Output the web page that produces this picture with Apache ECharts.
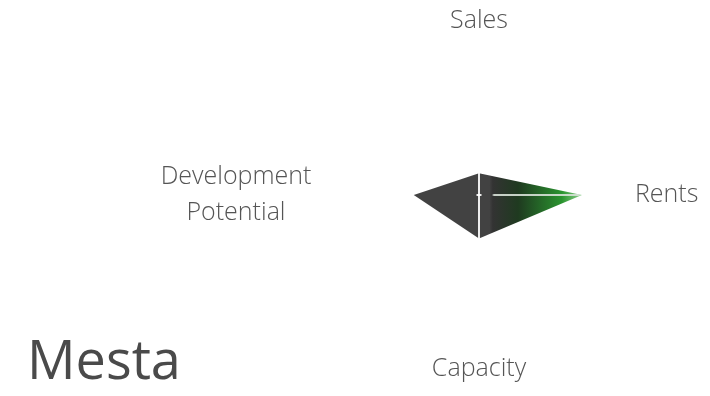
<!DOCTYPE html>
<html>
<head>
<meta charset="utf-8">
<script src="https://cdn.jsdelivr.net/npm/echarts@6/dist/echarts.min.js"></script>
<style>
  html, body { margin: 0; padding: 0; background: #fff; }
  #radar { width: 710px; height: 396px; }
</style>
</head>
<body>
<div id="radar"></div>
<script>
  // indicators in ECharts order (counter-clockwise from top)
  const indicators = ['Sales', 'Development\nPotential', 'Capacity', 'Rents']
  const maxValues = [1, 1, 1, 1]
  const values = [0.15, 0.45, 0.3, 0.71]

  const chart = echarts.init(document.getElementById('radar'))

  const clear = 'rgba(255,255,255,0)'
  let option = {
    backgroundColor: '#fff',
    animation: false,
    title: {
      text: 'Mesta',
      left: 22,
      bottom: 0,
      textStyle: {
        fontFamily: 'Open Sans',
        fontSize: 54,
        fontWeight: 'normal',
        color: '#4a4a4a'
      }
    },
    radar: {
      center: [479, 195],
      radius: 145,
      startAngle: 90,
      shape: 'polygon',
      nameGap: 11,
      z: 3,
      indicator: indicators.map((n, i) => ({ name: n, max: maxValues[i] })),
      axisName: {
        color: '#555',
        fontFamily: 'Open Sans',
        fontSize: 25,
        fontWeight: 300,
        lineHeight: 36,
        formatter: function (name) {
          // two-line names: centre the lines inside one block
          if (name.indexOf('\n') < 0) return name
          return name.split('\n').map(s => '{c|' + s + '}').join('\n')
        },
        rich: {
          c: {
            width: 174,
            align: 'center',
            color: '#555',
            fontFamily: 'Open Sans',
            fontSize: 25,
            fontWeight: 300,
            lineHeight: 36
          }
        }
      },
      splitLine: { show: false },
      splitArea: { show: false },
      axisLine: {
        show: true,
        lineStyle: {
          width: 2,
          color: {
            type: 'linear', x: 0, y: 0, x2: 710, y2: 0, global: true,
            colorStops: [
              { offset: 0, color: clear },
              { offset: 476 / 710, color: clear },
              { offset: 477 / 710, color: 'rgba(255,255,255,0.9)' },
              { offset: 481 / 710, color: 'rgba(255,255,255,0.9)' },
              { offset: 482 / 710, color: clear },
              { offset: 492 / 710, color: clear },
              { offset: 494 / 710, color: 'rgba(215,225,215,0.9)' },
              { offset: 578 / 710, color: 'rgba(215,225,215,0.9)' },
              { offset: 581 / 710, color: clear },
              { offset: 1, color: clear }
            ]
          }
        }
      },
      axisTick: { show: false }
    },
    series: [{
      type: 'radar',
      symbol: 'none',
      lineStyle: { width: 0 },
      areaStyle: {
        opacity: 1,
        color: {
          type: 'linear', x: 0, y: 0, x2: 1, y2: 0,
          colorStops: [
            { offset: 0, color: '#424242' },
            { offset: 0.45, color: '#424242' },
            { offset: 0.47, color: '#333333' },
            { offset: 0.62, color: '#1f3a20' },
            { offset: 0.88, color: '#2a932f' },
            { offset: 1, color: 'rgba(60,170,60,0.6)' }
          ]
        }
      },
      data: [{ value: values, name: 'Mesta' }]
    }]
  }
  chart.setOption(option)
</script>
</body>
</html>
